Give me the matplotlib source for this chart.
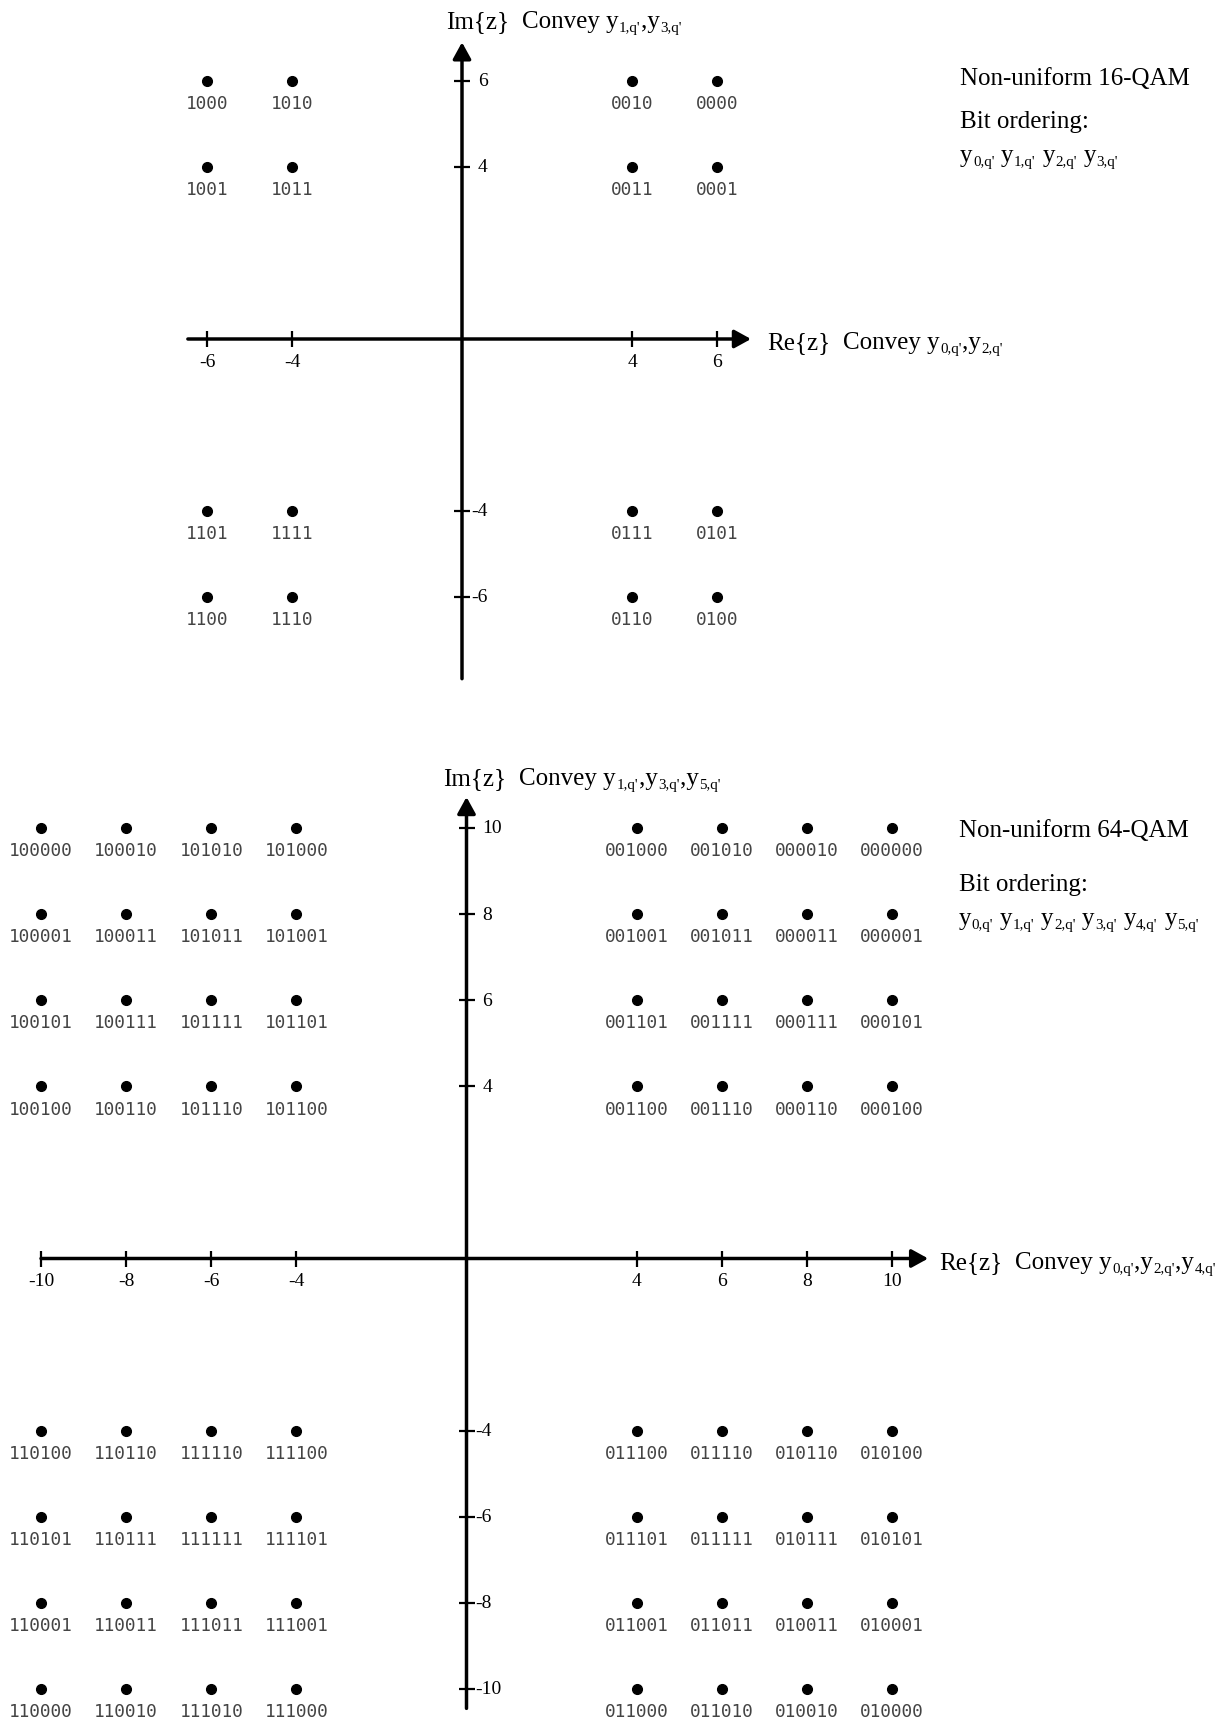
import numpy as np
import matplotlib.pyplot as plt
from matplotlib.transforms import offset_copy

plt.rcParams['font.family'] = ['Liberation Serif', 'DejaVu Serif']

W, H = 1217, 1731

# ---- 16-QAM data ----
qam16_cols = [-6, -4, 4, 6]
qam16_rows = [6, 4, -4, -6]
qam16_labels = [
    ["1000", "1010", "0010", "0000"],
    ["1001", "1011", "0011", "0001"],
    ["1101", "1111", "0111", "0101"],
    ["1100", "1110", "0110", "0100"],
]
qam16_xticks = [-6, -4, 4, 6]
qam16_yticks = [6, 4, -4, -6]

# ---- 64-QAM data ----
qam64_cols = [-10, -8, -6, -4, 4, 6, 8, 10]
qam64_rows = [10, 8, 6, 4, -4, -6, -8, -10]
qam64_labels = [
    ["100000", "100010", "101010", "101000", "001000", "001010", "000010", "000000"],
    ["100001", "100011", "101011", "101001", "001001", "001011", "000011", "000001"],
    ["100101", "100111", "101111", "101101", "001101", "001111", "000111", "000101"],
    ["100100", "100110", "101110", "101100", "001100", "001110", "000110", "000100"],
    ["110100", "110110", "111110", "111100", "011100", "011110", "010110", "010100"],
    ["110101", "110111", "111111", "111101", "011101", "011111", "010111", "010101"],
    ["110001", "110011", "111011", "111001", "011001", "011011", "010011", "010001"],
    ["110000", "110010", "111010", "111000", "011000", "011010", "010010", "010000"],
]
qam64_xticks = [-10, -8, -6, -4, 4, 6, 8, 10]
qam64_yticks = [10, 8, 6, 4, -4, -6, -8, -10]

fig = plt.figure(figsize=(W / 100, H / 100), dpi=100)
renderer = fig.canvas.get_renderer()

FS = 18  # main text size


def make_axes(cx, cy, ux, uy):
    # full-figure axes, origin at pixel (cx, cy), ux/uy pixels per unit
    ax = fig.add_axes([0, 0, 1, 1])
    ax.set_xlim(-cx / ux, (W - cx) / ux)
    ax.set_ylim((cy - H) / uy, cy / uy)
    ax.axis('off')
    return ax


def rich(ax, x, y, parts, size=FS):
    # pieces starting with "_" are subscripts, blank pieces are gaps
    dx = 0.0
    for p in parts:
        if p.strip() == '':
            dx += 0.25 * size * len(p)
            continue
        sub = p.startswith('_')
        s = p[1:] if sub else p
        fs = size * 0.6 if sub else size
        dy = -size * 0.16 if sub else 0
        tr = offset_copy(ax.transData, fig=fig, x=dx, y=dy, units='points')
        t = ax.text(x, y, s, transform=tr, fontsize=fs, ha='left', va='baseline')
        dx += t.get_window_extent(renderer).width * 72 / fig.dpi + 0.3


def arrow(ax, start, end):
    ax.annotate('', xy=end, xytext=start,
                arrowprops=dict(arrowstyle='-|>,head_length=10,head_width=5.5',
                                mutation_scale=1, lw=2.5, color='k',
                                shrinkA=0, shrinkB=0))


def draw_constellation(ax, cols, rows, labels, xticks, yticks, xr, yr):
    arrow(ax, (xr[0], 0), (xr[1], 0))
    arrow(ax, (0, yr[0]), (0, yr[1]))
    ax.plot(xticks, np.zeros(len(xticks)), ls='none', marker='|', ms=11.5,
            mew=1.6, color='k')
    ax.plot(np.zeros(len(yticks)), yticks, ls='none', marker='_', ms=11.5,
            mew=1.6, color='k')
    for t in xticks:
        ax.annotate(str(t), (t, 0), xytext=(0, -16), textcoords='offset points',
                    ha='center', va='center', fontsize=14)
    for t in yticks:
        dx = 11.5 if t > 0 else 6.5
        ax.annotate(str(t), (0, t), xytext=(dx, 0), textcoords='offset points',
                    ha='left', va='center', fontsize=14)

    X, Y = np.meshgrid(cols, rows)
    ax.plot(X.ravel(), Y.ravel(), ls='none', marker='o', ms=7, color='k')
    for i, r in enumerate(rows):
        for j, c in enumerate(cols):
            ax.annotate(labels[i][j], (c, r), xytext=(0, -16),
                        textcoords='offset points', ha='center', va='center',
                        fontfamily='DejaVu Sans Mono', fontsize=12.8,
                        color='#444444')


# ---------------- 16-QAM ----------------
ax1 = make_axes(462, 340, 42.5, 43.0)
draw_constellation(ax1, qam16_cols, qam16_rows, qam16_labels,
                   qam16_xticks, qam16_yticks, (-6.45, 6.8), (-7.9, 6.9))
rich(ax1, -0.38, 7.26, ["Im{z}", "  ", "Convey y", "_1,q'", ",y", "_3,q'"])
rich(ax1, 7.18, -0.21, ["Re{z}", "  ", "Convey y", "_0,q'", ",y", "_2,q'"])
rich(ax1, 11.72, 5.92, ["Non-uniform 16-QAM"])
rich(ax1, 11.72, 4.92, ["Bit ordering:"])
rich(ax1, 11.72, 4.13, ["y", "_0,q'", " ", "y", "_1,q'", " ", "y", "_2,q'",
                        " ", "y", "_3,q'"])

# ---------------- 64-QAM ----------------
ax2 = make_axes(466.5, 1259.5, 42.55, 43.05)
draw_constellation(ax2, qam64_cols, qam64_rows, qam64_labels,
                   qam64_xticks, qam64_yticks, (-10.0, 10.85), (-10.45, 10.72))
rich(ax2, -0.54, 11.02, ["Im{z}", "  ", "Convey y", "_1,q'", ",y", "_3,q'",
                         ",y", "_5,q'"])
rich(ax2, 11.10, -0.21, ["Re{z}", "  ", "Convey y", "_0,q'", ",y", "_2,q'",
                         ",y", "_4,q'"])
rich(ax2, 11.57, 9.81, ["Non-uniform 64-QAM"])
rich(ax2, 11.57, 8.56, ["Bit ordering:"])
rich(ax2, 11.57, 7.76, ["y", "_0,q'", " ", "y", "_1,q'", " ", "y", "_2,q'",
                        " ", "y", "_3,q'", " ", "y", "_4,q'", " ", "y", "_5,q'"])

fig.savefig('out.png', dpi=100)
